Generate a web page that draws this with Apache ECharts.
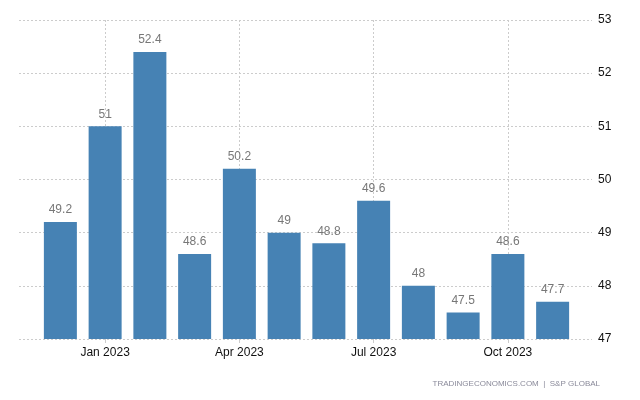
<!DOCTYPE html>
<html><head><meta charset="utf-8">
<script src="https://cdn.jsdelivr.net/npm/echarts@6/dist/echarts.min.js"></script>
<style>html,body{margin:0;padding:0;background:#fff}#c{width:640px;height:400px}</style>
</head><body><div id="c"></div>
<script>
const categories = ['Dec 2022','Jan 2023','Feb 2023','Mar 2023','Apr 2023','May 2023','Jun 2023','Jul 2023','Aug 2023','Sep 2023','Oct 2023','Nov 2023'];
const values = [49.2, 51, 52.4, 48.6, 50.2, 49, 48.8, 49.6, 48, 47.5, 48.6, 47.7];
const yTicks = [47, 48, 49, 50, 51, 52, 53];
const labelIdx = [1, 4, 7, 10];
const source = 'TRADINGECONOMICS.COM  |  S&P GLOBAL';

const chart = echarts.init(document.getElementById('c'));
const font = 'Arial, "Liberation Sans", sans-serif';
const showIdx = (i) => labelIdx.indexOf(i) >= 0;
chart.setOption({
  animation: false,
  textStyle: {fontFamily: font},
  grid: [
    {left: 38, right: 65, top: 20, bottom: 61, containLabel: false},
    {left: 19, right: 48, top: 20, bottom: 61, containLabel: false}
  ],
  graphic: [{
    type: 'text', right: 40, top: 380,
    style: {text: source, fill: '#8a8a9a', font: '8px ' + font, textAlign: 'right'}
  }],
  xAxis: [{
    type: 'category', gridIndex: 0, data: categories,
    axisLine: {show: false},
    axisTick: {show: true, alignWithLabel: true, interval: (i) => showIdx(i), length: 4, lineStyle: {color: '#cccccc'}},
    axisLabel: {interval: (i) => showIdx(i), color: '#111', fontSize: 12, margin: 8},
    splitLine: {show: true, alignWithLabel: true, interval: (i) => showIdx(i), lineStyle: {color: '#cccccc', type: [2, 2]}}
  }, {
    type: 'value', gridIndex: 1, show: false, min: 0, max: 1,
    splitLine: {show: false}
  }],
  yAxis: [{
    type: 'value', gridIndex: 0, min: yTicks[0], max: yTicks[yTicks.length - 1], interval: 1,
    show: false, splitLine: {show: false}
  }, {
    type: 'value', gridIndex: 1, position: 'right', min: yTicks[0], max: yTicks[yTicks.length - 1], interval: 1,
    axisLine: {show: false}, axisTick: {show: false},
    axisLabel: {color: '#111', fontSize: 12, margin: 6},
    splitLine: {show: true, lineStyle: {color: '#cccccc', type: [2, 2]}}
  }],
  series: [{
    type: 'bar', xAxisIndex: 0, yAxisIndex: 0, data: values,
    barWidth: 33,
    itemStyle: {color: '#4682b4'},
    label: {show: true, position: 'top', distance: 6, color: '#777', fontSize: 12}
  }]
});
</script></body></html>
